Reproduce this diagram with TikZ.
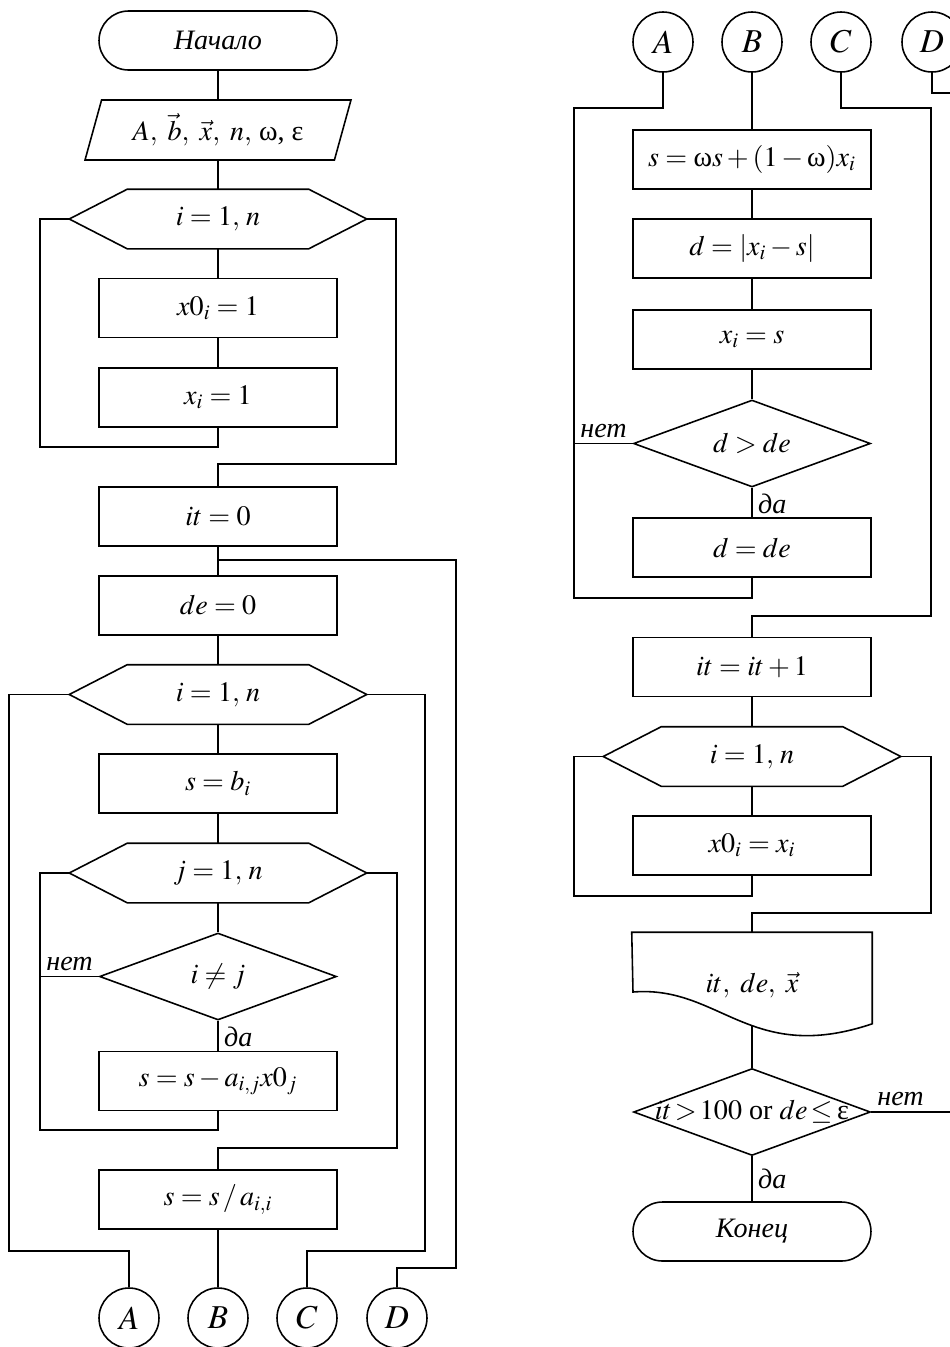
\documentclass[tikz,border=0pt]{standalone}
\usepackage{amsmath}
\usepackage{mathptmx}
\usepackage[no-math]{fontspec}
\setmainfont{Liberation Serif}
\usetikzlibrary{shapes.geometric,shapes.misc}

\begin{document}
\begin{tikzpicture}[x=0.02cm,y=-0.02cm,line width=0.9pt]
				\tikzstyle{every node}+=[inner sep=0pt,font=\fontsize{16}{19}\selectfont]
				\tikzstyle{block}=[draw,rectangle,minimum width=4.76cm,minimum height=1.18cm]
				\tikzstyle{term}=[draw,rounded rectangle,minimum width=4.76cm,minimum height=1.18cm]
				\tikzstyle{io}=[draw,trapezium,trapezium left angle=63,trapezium right angle=117,trapezium stretches body,minimum width=5.32cm,minimum height=1.2cm]
				\tikzstyle{hexa}=[rectangle,minimum width=5.92cm,minimum height=1.16cm]
				\tikzstyle{decide}=[draw,diamond,aspect=2.7,minimum width=4.74cm,minimum height=1.74cm]
				\tikzstyle{conn}=[draw,circle,minimum size=1.2cm,font=\fontsize{19}{22}\selectfont]
				\tikzstyle{ans}=[inner sep=3pt]
				\useasboundingbox (0,0) rectangle (950,1347);
				\clip (0,0) rectangle (950,1347);
				\node[term] (start) at (218,40.5) {\textit{Начало}};
				\node[io] (input) at (218,130) {$A,\ \vec{b},\ \vec{x},\ n,$ ω, ε};
				\node[hexa] (loopi) at (218,219) {$i=1,\,n$};
				\draw (loopi.west) -- ([xshift=1.16cm]loopi.north west) -- ([xshift=-1.16cm]loopi.north east) -- (loopi.east) -- ([xshift=-1.16cm]loopi.south east) -- ([xshift=1.16cm]loopi.south west) -- cycle;
				\node[block] (initxo) at (218,308) {$x0_i=1$};
				\node[block] (initx) at (218,397.5) {$x_i=1$};
				\node[block] (itzero) at (218,516.5) {$it=0$};
				\node[block] (dezero) at (218,605.5) {$de=0$};
				\node[hexa] (loopr) at (218,694.5) {$i=1,\,n$};
				\draw (loopr.west) -- ([xshift=1.16cm]loopr.north west) -- ([xshift=-1.16cm]loopr.north east) -- (loopr.east) -- ([xshift=-1.16cm]loopr.south east) -- ([xshift=1.16cm]loopr.south west) -- cycle;
				\node[block] (sb) at (218,783.5) {$s=b_i$};
				\node[hexa] (loopc) at (218,873) {$j=1,\,n$};
				\draw (loopc.west) -- ([xshift=1.16cm]loopc.north west) -- ([xshift=-1.16cm]loopc.north east) -- (loopc.east) -- ([xshift=-1.16cm]loopc.south east) -- ([xshift=1.16cm]loopc.south west) -- cycle;
				\node[decide] (ifij) at (218,976.5) {$i\neq j$};
				\node[block] (ssub) at (218,1081) {$s=s-a_{i,j}x0_j$};
				\node[block] (sdiv) at (218,1199.5) {$s=s\,/\,a_{i,i}$};
				\node[conn] (outa) at (129,1318) {$A$};
				\node[conn] (outb) at (218,1318) {$B$};
				\node[conn] (outc) at (307,1318) {$C$};
				\node[conn] (outd) at (397,1318) {$D$};
				\coordinate (split) at (218,560);
				\draw (start.south) -- (input.north);
				\draw (input.south) -- (loopi.north);
				\draw (loopi.south) -- (initxo.north);
				\draw (initxo.south) -- (initx.north);
				\draw (initx.south) |- (40,447) |- (loopi.west);
				\draw (loopi.east) -| (396,464) -| (itzero.north);
				\draw (itzero.south) -- (dezero.north);
				\draw (split) -| (456,1268) -| (outd.north);
				\draw (dezero.south) -- (loopr.north);
				\draw (loopr.south) -- (sb.north);
				\draw (sb.south) -- (loopc.north);
				\draw (loopc.south) -- (ifij.north);
				\draw (ifij.south) -- node[pos=0,below right,ans] {\textit{да}} (ssub.north);
				\draw (ifij.west) -- node[pos=0,above left,ans] {\textit{нет}} (40,976.5);
				\draw (ssub.south) |- (40,1130) |- (loopc.west);
				\draw (loopc.east) -| (397,1148) -| (sdiv.north);
				\draw (loopr.west) -| (9,1251) -| (outa.north);
				\draw (loopr.east) -| (425,1251) -| (outc.north);
				\draw (sdiv.south) -- (outb.north);
				\node[conn] (ina) at (663,42) {$A$};
				\node[conn] (inb) at (752,42) {$B$};
				\node[conn] (inc) at (841,42) {$C$};
				\node[conn] (ind) at (932,42) {$D$};
				\node[block] (relax) at (752,159.5) {$s=\text{ω}s+(1-\text{ω})x_i$};
				\node[block] (dist) at (752,248.5) {$d=\left|x_i-s\right|$};
				\node[block] (xs) at (752,339.5) {$x_i=s$};
				\node[decide] (ifd) at (752,443.5) {$d>de$};
				\node[block] (dde) at (752,547.5) {$d=de$};
				\node[block] (itinc) at (752,667) {$it=it+1$};
				\node[hexa] (loopx) at (752,756.5) {$i=1,\,n$};
				\draw (loopx.west) -- ([xshift=1.16cm]loopx.north west) -- ([xshift=-1.16cm]loopx.north east) -- (loopx.east) -- ([xshift=-1.16cm]loopx.south east) -- ([xshift=1.16cm]loopx.south west) -- cycle;
				\node[block] (xox) at (752,845.5) {$x0_i=x_i$};
				\node[rectangle,minimum width=4.78cm,minimum height=1.8cm,label={[yshift=-0.14cm]center:$it,\ de,\ \vec{x}$}] (outres) at (752,978) {};
				\draw (outres.north west) -- (outres.north east) -- (outres.south east) .. controls (750,1065) and (720,985) .. (633,992) -- cycle;
				\coordinate (outbot) at (752,1025);
				\node[decide,label={center:\thickmuskip=2mu $it>100$ or $de\leq$\,ε}] (ifend) at (752,1112) {};
				\node[term] (finish) at (752,1231.5) {\textit{Конец}};
				\draw (inb.south) -- (relax.north);
				\draw (ina.south) |- (574,108) |- (752,598) -- (dde.south);
				\draw (inc.south) |- (931,108) |- (752,616) -- (itinc.north);
				\draw (ind.south) |- (960,93);
				\draw (relax.south) -- (dist.north);
				\draw (dist.south) -- (xs.north);
				\draw (xs.south) -- (ifd.north);
				\draw (ifd.south) -- node[pos=0,below right,ans] {\textit{да}} (dde.north);
				\draw (ifd.west) -- node[pos=0,above left,ans] {\textit{нет}} (574,443.5);
				\draw (itinc.south) -- (loopx.north);
				\draw (loopx.south) -- (xox.north);
				\draw (xox.south) |- (574,896) |- (loopx.west);
				\draw (loopx.east) -| (931,913) -| (outres.north);
				\draw (outbot) -- (ifend.north);
				\draw (ifend.south) -- node[midway,right,ans] {\textit{да}} (finish.north);
				\draw (ifend.east) -- node[pos=0,above right,ans] {\textit{нет}} (960,1112);
\end{tikzpicture}
\end{document}
